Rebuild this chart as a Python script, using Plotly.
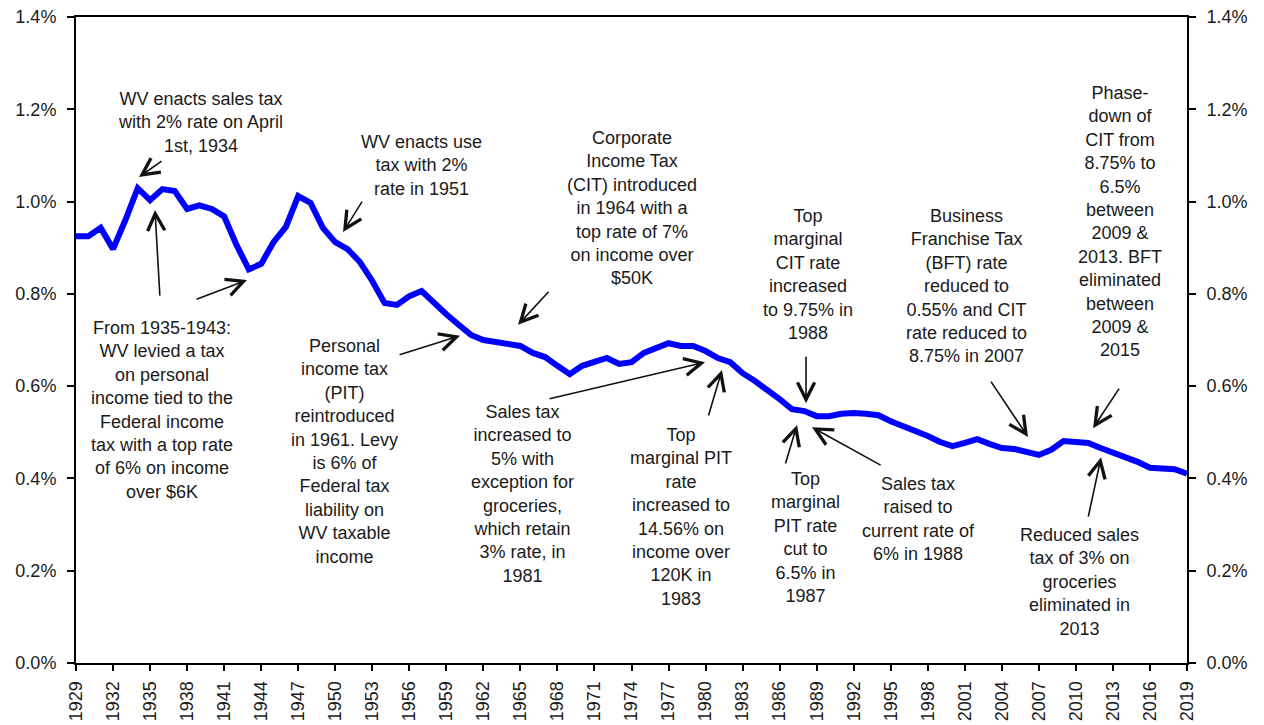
import plotly.graph_objects as go

years = list(range(1929, 2020))
share = [
    0.925, 0.925, 0.943, 0.897, 0.960, 1.029, 1.003, 1.027, 1.023, 0.984,
    0.992, 0.984, 0.968, 0.906, 0.853, 0.865, 0.912, 0.945, 1.012, 0.997,
    0.943, 0.912, 0.897, 0.869, 0.828, 0.780, 0.776, 0.795, 0.806, 0.780,
    0.756, 0.733, 0.711, 0.700, 0.696, 0.693, 0.687, 0.672, 0.663, 0.644,
    0.626, 0.644, 0.654, 0.661, 0.648, 0.652, 0.672, 0.683, 0.693, 0.687,
    0.687, 0.676, 0.661, 0.652, 0.628, 0.611, 0.592, 0.572, 0.550, 0.546,
    0.535, 0.535, 0.540, 0.542, 0.540, 0.537, 0.524, 0.514, 0.505, 0.492,
    0.479, 0.470, 0.477, 0.485, 0.475, 0.466, 0.464, 0.459, 0.451, 0.462,
    0.481, 0.479, 0.477, 0.466, 0.457, 0.446, 0.436, 0.423, 0.420, 0.420,
    0.410,
]
x_ticks = list(range(1929, 2020, 3))
y_ticks = [0.0, 0.2, 0.4, 0.6, 0.8, 1.0, 1.2, 1.4]
y_tick_labels = ["0.0%", "0.2%", "0.4%", "0.6%", "0.8%", "1.0%", "1.2%", "1.4%"]

# (text, x-year, y-value)
notes = [
    ("WV enacts sales tax<br>with 2% rate on April<br>1st, 1934", 1939.05, 1.172),
    ("WV enacts use<br>tax with 2%<br>rate in 1951", 1956.95, 1.079),
    ("Corporate<br>Income Tax<br>(CIT) introduced<br>in 1964 with a<br>top rate of 7%<br>on income over<br>$50K", 1974.04, 0.986),
    ("Top<br>marginal<br>CIT rate<br>increased<br>to 9.75% in<br>1988", 1988.3, 0.843),
    ("Business<br>Franchise Tax<br>(BFT) rate<br>reduced to<br>0.55% and CIT<br>rate reduced to<br>8.75% in 2007", 2001.1, 0.817),
    ("Phase-<br>down of<br>CIT from<br>8.75% to<br>6.5%<br>between<br>2009 &<br>2013. BFT<br>eliminated<br>between<br>2009 &<br>2015", 2013.58, 0.956),
    ("From 1935-1943:<br>WV levied a tax<br>on personal<br>income tied to the<br>Federal income<br>tax with a top rate<br>of 6% on income<br>over $6K", 1935.97, 0.548),
    ("Personal<br>income tax<br>(PIT)<br>reintroduced<br>in 1961. Levy<br>is 6% of<br>Federal tax<br>liability on<br>WV taxable<br>income", 1950.79, 0.459),
    ("Sales tax<br>increased to<br>5% with<br>exception for<br>groceries,<br>which retain<br>3% rate, in<br>1981", 1965.21, 0.366),
    ("Top<br>marginal PIT<br>rate<br>increased to<br>14.56% on<br>income over<br>120K in<br>1983", 1978.01, 0.316),
    ("Top<br>marginal<br>PIT rate<br>cut to<br>6.5% in<br>1987", 1988.06, 0.271),
    ("Sales tax<br>raised to<br>current rate of<br>6% in 1988", 1997.21, 0.312),
    ("Reduced sales<br>tax of 3% on<br>groceries<br>eliminated in<br>2013", 2010.33, 0.176),
]

# arrows: (head x, head y, tail x, tail y) in data units
arrows = [
    (1934.10, 1.053, 1936.05, 1.090),
    (1950.63, 0.934, 1952.25, 1.003),
    (1964.81, 0.733, 1967.40, 0.808),
    (1988.14, 0.563, 1988.14, 0.667),
    (2006.12, 0.490, 2003.04, 0.613),
    (2011.39, 0.509, 2013.58, 0.598),
    (1935.40, 0.982, 1935.80, 0.793),
    (1942.85, 0.830, 1938.64, 0.787),
    (1960.11, 0.709, 1955.09, 0.667),
    (1979.96, 0.652, 1967.24, 0.572),
    (1981.33, 0.635, 1980.20, 0.533),
    (1987.41, 0.516, 1986.44, 0.429),
    (1988.62, 0.511, 1994.30, 0.427),
    (2012.04, 0.446, 2010.98, 0.314),
]

FONT = "Liberation Sans, Arial, sans-serif"
TXT = "#1a1a1a"

fig = go.Figure()
fig.add_trace(go.Scatter(x=years, y=share, mode="lines",
                         line=dict(color="#0000FF", width=6),
                         showlegend=False, hoverinfo="x+y"))
fig.add_trace(go.Scatter(x=years, y=share, mode="lines", yaxis="y2",
                         line=dict(color="rgba(0,0,0,0)", width=0),
                         showlegend=False, hoverinfo="skip"))

annotations = []
for text, x, y in notes:
    annotations.append(dict(text=text, x=x, y=y, xref="x", yref="y",
                            showarrow=False, align="center",
                            font=dict(family=FONT, size=18, color=TXT)))
for hx, hy, tx, ty in arrows:
    annotations.append(dict(text="", x=hx, y=hy, ax=tx, ay=ty,
                            xref="x", yref="y", axref="x", ayref="y",
                            showarrow=True, arrowhead=5, arrowsize=2.1,
                            arrowwidth=1.6, arrowcolor="#111111",
                            standoff=0, startstandoff=0))

axis_font = dict(family=FONT, size=18, color=TXT)
fig.update_layout(
    width=1264, height=725,
    margin=dict(l=76, r=77, t=17, b=62, autoexpand=False),
    paper_bgcolor="white", plot_bgcolor="white",
    xaxis=dict(range=[1929, 2019], tickmode="array", tickvals=x_ticks,
               ticktext=[str(v) for v in x_ticks], tickangle=-90,
               ticks="outside", ticklen=6, tickwidth=2, tickcolor="black",
               showline=True, linewidth=2, linecolor="black", mirror=True,
               showgrid=False, zeroline=False, automargin=False,
               ticklabelstandoff=3,
               tickfont=dict(family=FONT, size=18, color=TXT)),
    yaxis=dict(range=[0, 1.4], tickmode="array", tickvals=y_ticks,
               ticktext=y_tick_labels, ticks="outside", ticklen=7,
               tickwidth=2, tickcolor="black", showline=True, linewidth=2,
               linecolor="black", showgrid=False, zeroline=False,
               automargin=False, ticklabelstandoff=7,
               tickfont=axis_font),
    yaxis2=dict(range=[0, 1.4], overlaying="y", side="right",
                tickmode="array", tickvals=y_ticks, ticktext=y_tick_labels,
                ticks="outside", ticklen=7, tickwidth=2, tickcolor="black",
                showline=True, linewidth=2, linecolor="black",
                showgrid=False, zeroline=False, automargin=False,
                ticklabelstandoff=7, tickfont=axis_font),
    annotations=annotations,
    showlegend=False,
)

fig.write_html("out.html",
               config={"displayModeBar": False},
               post_script="document.body.style.margin='0';document.body.style.overflow='hidden';")
